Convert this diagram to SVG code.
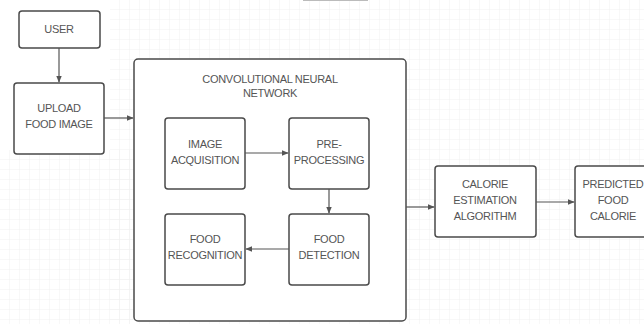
<svg xmlns="http://www.w3.org/2000/svg" width="644" height="324" viewBox="0 0 644 324">
<style>
.box{fill:#fff;stroke:#4a4a4a;stroke-width:1.5}
.t{font-family:"Liberation Sans",Arial,sans-serif;font-size:11px;fill:#555;text-anchor:middle;letter-spacing:-0.3px}
.c{stroke:#555;stroke-width:1.2;fill:none;marker-end:url(#ah)}
</style>
<defs>
<pattern id="g" width="10" height="10" patternUnits="userSpaceOnUse">
<path d="M10 0V10M0 10H10" stroke="#f1f1f1" stroke-width="1" fill="none"/>
</pattern>
<marker id="ah" viewBox="0 0 10 10" refX="9" refY="5" markerWidth="7" markerHeight="7" markerUnits="userSpaceOnUse" orient="auto">
<path d="M0 1L10 5L0 9Z" fill="#555"/>
</marker>
</defs>
<rect width="644" height="324" fill="#fff"/>
<rect x="110" y="0" width="534" height="324" fill="url(#g)"/>
<rect x="0" y="150" width="134" height="174" fill="url(#g)"/>
<line x1="303" y1="0.5" x2="368" y2="0.5" stroke="#bbb" stroke-width="1"/>
<g id="user"><rect class="box" x="19" y="11" width="81" height="37" rx="3"/><text class="t" x="59" y="33">USER</text></g>
<g id="upload"><rect class="box" x="14" y="83" width="90" height="71" rx="3"/><text class="t" x="59" y="112">UPLOAD</text><text class="t" x="59" y="128">FOOD IMAGE</text></g>
<g id="cnn"><rect class="box" x="134" y="59" width="272" height="262" rx="4"/><text class="t" x="270" y="83">CONVOLUTIONAL NEURAL</text><text class="t" x="270" y="97">NETWORK</text></g>
<g id="acq"><rect class="box" x="165" y="118" width="80" height="71" rx="3"/><text class="t" x="205" y="148">IMAGE</text><text class="t" x="205" y="164">ACQUISITION</text></g>
<g id="pre"><rect class="box" x="289" y="118" width="80" height="71" rx="3"/><text class="t" x="329" y="148">PRE-</text><text class="t" x="329" y="164">PROCESSING</text></g>
<g id="rec"><rect class="box" x="165" y="214" width="80" height="71" rx="3"/><text class="t" x="205" y="243">FOOD</text><text class="t" x="205" y="259">RECOGNITION</text></g>
<g id="det"><rect class="box" x="289" y="214" width="80" height="71" rx="3"/><text class="t" x="329" y="243">FOOD</text><text class="t" x="329" y="259">DETECTION</text></g>
<g id="cal"><rect class="box" x="435" y="166" width="101" height="71" rx="3"/><text class="t" x="485" y="188">CALORIE</text><text class="t" x="485" y="204">ESTIMATION</text><text class="t" x="485" y="220">ALGORITHM</text></g>
<g id="pred"><rect class="box" x="575" y="166" width="80" height="71" rx="3"/><text class="t" x="613" y="188">PREDICTED</text><text class="t" x="613" y="204">FOOD</text><text class="t" x="613" y="220">CALORIE</text></g>
<g id="connectors">
<line class="c" x1="59" y1="48" x2="59" y2="82"/>
<line class="c" x1="104" y1="118" x2="133" y2="118"/>
<line class="c" x1="245" y1="153" x2="288" y2="153"/>
<line class="c" x1="329" y1="189" x2="329" y2="213"/>
<line class="c" x1="289" y1="249" x2="246" y2="249"/>
<line class="c" x1="406" y1="207" x2="434" y2="207"/>
<line class="c" x1="536" y1="202" x2="574" y2="202"/>
</g>
</svg>
